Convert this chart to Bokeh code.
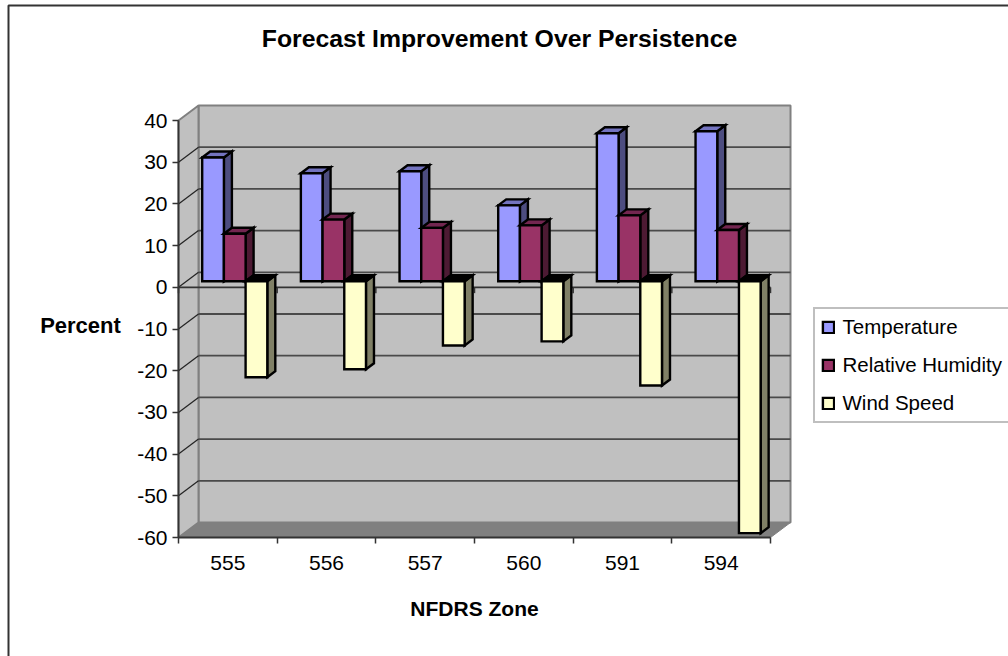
from bokeh.embed import file_html
from bokeh.models import (BoxAnnotation, ColumnDataSource, FixedTicker, Label, Legend, LegendItem,
                          LinearAxis, Range1d)
from bokeh.plotting import figure
from bokeh.resources import INLINE

zones = ["555", "556", "557", "560", "591", "594"]
temperature = [29.7, 25.9, 26.4, 18.2, 35.5, 36.0]
humidity = [11.4, 14.8, 12.8, 13.4, 15.8, 12.3]
wind = [-23.0, -21.1, -15.4, -14.4, -25.0, -60.4]

series = [
    ("Temperature", temperature, "#9999FF", "#4D4D80", "#7373BF"),
    ("Relative Humidity", humidity, "#993366", "#4D1A33", "#732650"),
    ("Wind Speed", wind, "#FFFFCC", "#808066", "#000000"),
]
y_ticks = [40, 30, 20, 10, 0, -10, -20, -30, -40, -50, -60]

# The plot frame fills the page; the chart box is placed through the axis ranges
PAGE_W, PAGE_H = 1008, 656
LEFT, BOTTOM = 178, 537
CAT_W = 98.67
UNIT = 4.17

# Depth of the box and of the bars, expressed in axis units
WALL_DX, WALL_DY = 20 / CAT_W, 15 / UNIT
BAR_DX, BAR_DY = 8 / CAT_W, 6 / UNIT
BAR_W = 21.7 / CAT_W
BAR_START = 23.7 / CAT_W
N = len(zones)

p = figure(width=PAGE_W, height=PAGE_H, output_backend="svg", toolbar_location=None,
           x_range=Range1d(-LEFT / CAT_W, (PAGE_W - LEFT) / CAT_W),
           y_range=Range1d(-60 - (PAGE_H - BOTTOM) / UNIT, -60 + BOTTOM / UNIT),
           x_axis_location=None, y_axis_location=None, min_border=0,
           background_fill_color="white", border_fill_color="white", outline_line_color=None)
p.grid.visible = False

WALL = "#808080"
# Back wall, side wall and floor
p.patch([WALL_DX, N + WALL_DX, N + WALL_DX, WALL_DX],
        [-60 + WALL_DY, -60 + WALL_DY, 40 + WALL_DY, 40 + WALL_DY],
        fill_color="#C0C0C0", line_color=WALL, line_width=2)
p.patch([0, WALL_DX, WALL_DX, 0], [-60, -60 + WALL_DY, 40 + WALL_DY, 40],
        fill_color="#C0C0C0", line_color=WALL, line_width=2)
p.patch([0, WALL_DX, N + WALL_DX, N], [-60, -60 + WALL_DY, -60 + WALL_DY, -60],
        fill_color="#808080", line_color="#808080", line_width=1)

# Gridlines across the back wall and down the side wall
inner = [v for v in y_ticks if -60 < v < 40]
p.segment(x0=[WALL_DX] * len(inner), x1=[N + WALL_DX] * len(inner),
          y0=[v + WALL_DY for v in inner], y1=[v + WALL_DY for v in inner],
          line_color="#4A4A4A", line_width=1.8)
p.segment(x0=[0] * len(inner), x1=[WALL_DX] * len(inner),
          y0=inner, y1=[v + WALL_DY for v in inner], line_color="#222222", line_width=1.2)

# Zero line with its short category ticks
p.segment(x0=[0], x1=[N], y0=[0], y1=[0], line_color="#333333", line_width=1.7)
p.segment(x0=list(range(N + 1)), x1=list(range(N + 1)), y0=[0] * (N + 1), y1=[-1.4] * (N + 1),
          line_color="#333333", line_width=1.5)

legend_items = []
for j, (name, values, front, side, top) in enumerate(series):
    lefts = [i + BAR_START + j * BAR_W for i in range(N)]
    rights = [l + BAR_W for l in lefts]
    highs = [max(v, 0) + BAR_DY for v in values]
    lows = [min(v, 0) + BAR_DY for v in values]

    p.patches(xs=[[r, r + BAR_DX, r + BAR_DX, r] for r in rights],
              ys=[[lo, lo + BAR_DY, hi + BAR_DY, hi] for lo, hi in zip(lows, highs)],
              fill_color=side, line_color="black", line_width=2.4, line_join="miter")
    p.patches(xs=[[l, l + BAR_DX, r + BAR_DX, r] for l, r in zip(lefts, rights)],
              ys=[[hi, hi + BAR_DY, hi + BAR_DY, hi] for hi in highs],
              fill_color=top, line_color="black", line_width=2.4, line_join="miter")
    source = ColumnDataSource(dict(x=[(l + r) / 2 for l, r in zip(lefts, rights)], top=highs, bottom=lows))
    bar = p.vbar(x="x", top="top", bottom="bottom", width=BAR_W, source=source,
                 fill_color=front, line_color="black", line_width=2.4, line_join="miter")
    legend_items.append(LegendItem(label=name, renderers=[bar]))

FONT = "Liberation Sans"

y_axis = LinearAxis(ticker=FixedTicker(ticks=y_ticks), bounds=(-60, 40), fixed_location=0)
y_axis.major_label_overrides = {v: str(v) for v in y_ticks}
y_axis.axis_line_color = "#333333"
y_axis.axis_line_width = 1.8
y_axis.major_tick_line_color = "#333333"
y_axis.major_tick_line_width = 1.5
y_axis.major_tick_in = 0
y_axis.major_tick_out = 6
y_axis.minor_tick_line_color = None
y_axis.major_label_standoff = 5
y_axis.major_label_text_font = FONT
y_axis.major_label_text_font_size = "21px"
y_axis.major_label_text_color = "black"
p.add_layout(y_axis, "left")

x_axis = LinearAxis(ticker=FixedTicker(ticks=[i + 0.5 for i in range(N)], minor_ticks=list(range(N + 1))),
                    bounds=(0, N), fixed_location=-60)
x_axis.major_label_overrides = {i + 0.5: z for i, z in enumerate(zones)}
x_axis.axis_line_color = "#333333"
x_axis.axis_line_width = 1.8
x_axis.major_tick_line_color = None
x_axis.major_tick_in = 0
x_axis.major_tick_out = 0
x_axis.minor_tick_line_color = "#333333"
x_axis.minor_tick_line_width = 1.5
x_axis.minor_tick_in = 0
x_axis.minor_tick_out = 6
x_axis.major_label_standoff = 12
x_axis.major_label_text_font = FONT
x_axis.major_label_text_font_size = "21px"
x_axis.major_label_text_color = "black"
p.add_layout(x_axis, "below")


def page_label(text, cx, cy, size):
    p.add_layout(Label(x=cx, y=PAGE_H - cy, x_units="screen", y_units="screen", text=text,
                       text_align="center", text_baseline="middle", text_font=FONT,
                       text_font_size=size, text_font_style="bold", text_color="black"))


page_label("Forecast Improvement Over Persistence", 499, 38, "24.8px")
page_label("Percent", 80, 325, "22px")
page_label("NFDRS Zone", 474, 608, "21px")

# Chart area border; its right and bottom sides fall past the page edge
p.add_layout(BoxAnnotation(left=8, right=PAGE_W + 20, top=PAGE_H - 5, bottom=-20,
                           left_units="screen", right_units="screen", top_units="screen", bottom_units="screen",
                           fill_color=None, line_color="#333333", line_alpha=1, line_width=2))

legend = Legend(items=legend_items, location=(812.5, PAGE_H - 422.7), margin=0, padding=6,
                spacing=14, label_height=22, glyph_width=14, glyph_height=14, label_standoff=8,
                label_text_font=FONT, label_text_font_size="20.5px", label_text_color="black",
                border_line_color="#808080", border_line_width=2, background_fill_color="white",
                background_fill_alpha=1)
p.add_layout(legend, "center")

open("out.html", "w").write(file_html(p, INLINE))
